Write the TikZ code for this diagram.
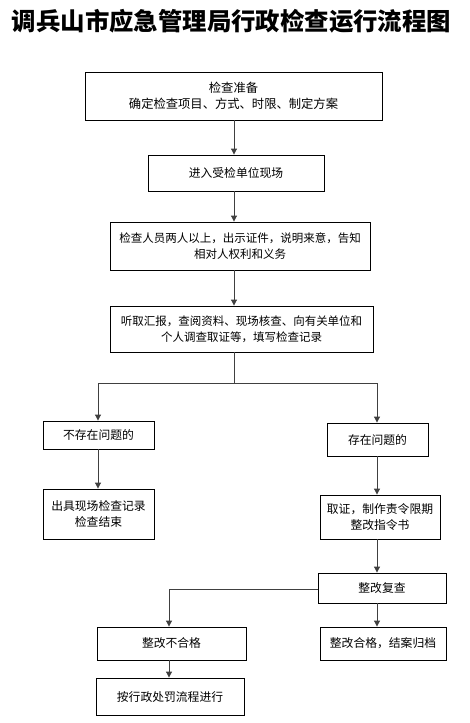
\documentclass[tikz,border=0pt]{standalone}
\usepackage{fontspec}
\setmainfont{Noto Sans CJK SC}
\usetikzlibrary{arrows.meta}
\tikzset{
  box/.style={draw=black, line width=0.9pt, align=center, inner sep=0pt,
    font=\fontsize{11.8}{16}\selectfont},
  arr/.style={draw=black!75, line width=1pt, -{Triangle[length=6pt,width=6pt]}},
  ln/.style={draw=black!75, line width=1pt}
}
\begin{document}
\begin{tikzpicture}[x=1pt,y=-1pt]
\useasboundingbox (0,0) rectangle (470,723);
\node (title) at (231.5,21) {\fontsize{24.4}{26}\selectfont\bfseries 调兵山市应急管理局行政检查运行流程图};
\node[box, minimum width=297pt, minimum height=48pt, font=\fontsize{12.3}{16}\selectfont] (b1) at (233.5,96) {检查准备\\确定检查项目、方式、时限、制定方案};
\node[box, minimum width=176pt, minimum height=36pt] (b2) at (236,173) {进入受检单位现场};
\node[box, minimum width=260pt, minimum height=48pt, font=\fontsize{11.5}{16}\selectfont] (b3) at (240,246) {检查人员两人以上，出示证件，说明来意，告知\\相对人权利和义务};
\node[box, minimum width=263pt, minimum height=46pt, font=\fontsize{11.5}{16}\selectfont] (b4) at (241.5,329) {听取汇报，查阅资料、现场核查、向有关单位和\\个人调查取证等，填写检查记录};
\node[box, minimum width=111pt, minimum height=28pt] (b5) at (98.5,435) {不存在问题的};
\node[box, minimum width=101pt, minimum height=33pt] (b6) at (377.5,439.5) {存在问题的};
\node[box, minimum width=111pt, minimum height=50pt] (b7) at (98.5,514) {出具现场检查记录\\检查结束};
\node[box, minimum width=120pt, minimum height=44pt] (b8) at (380,517) {取证，制作责令限期\\整改指令书};
\node[box, minimum width=128pt, minimum height=30pt] (b9) at (382,588) {整改复查};
\node[box, minimum width=149pt, minimum height=33pt] (b10) at (171.5,643.5) {整改不合格};
\node[box, minimum width=126pt, minimum height=33pt] (b11) at (383,643.5) {整改合格，结案归档};
\node[box, minimum width=148pt, minimum height=37pt] (b12) at (170,696.5) {按行政处罚流程进行};
\coordinate (j) at (234,383);
\coordinate (l) at (98,383);
\coordinate (r) at (377,383);
\coordinate (k) at (169,589);
\draw[arr] (b1.south -| j) -- (b2.north -| j);
\draw[arr] (b2.south -| j) -- (b3.north -| j);
\draw[arr] (b3.south -| j) -- (b4.north -| j);
\draw[ln] (b4.south -| j) -- (j);
\draw[arr] (j) -- (l) -- (b5.north -| l);
\draw[arr] (j) -- (r) -- (b6.north -| r);
\draw[arr] (b5.south -| l) -- (b7.north -| l);
\draw[arr] (b6.south -| r) -- (b8.north -| r);
\draw[arr] (b8.south -| r) -- (b9.north -| r);
\draw[arr] (b9.south -| r) -- (b11.north -| r);
\draw[arr] (b9.west |- k) -- (k) -- (b10.north -| k);
\draw[arr] (b10.south -| k) -- (b12.north -| k);
\end{tikzpicture}
\end{document}
